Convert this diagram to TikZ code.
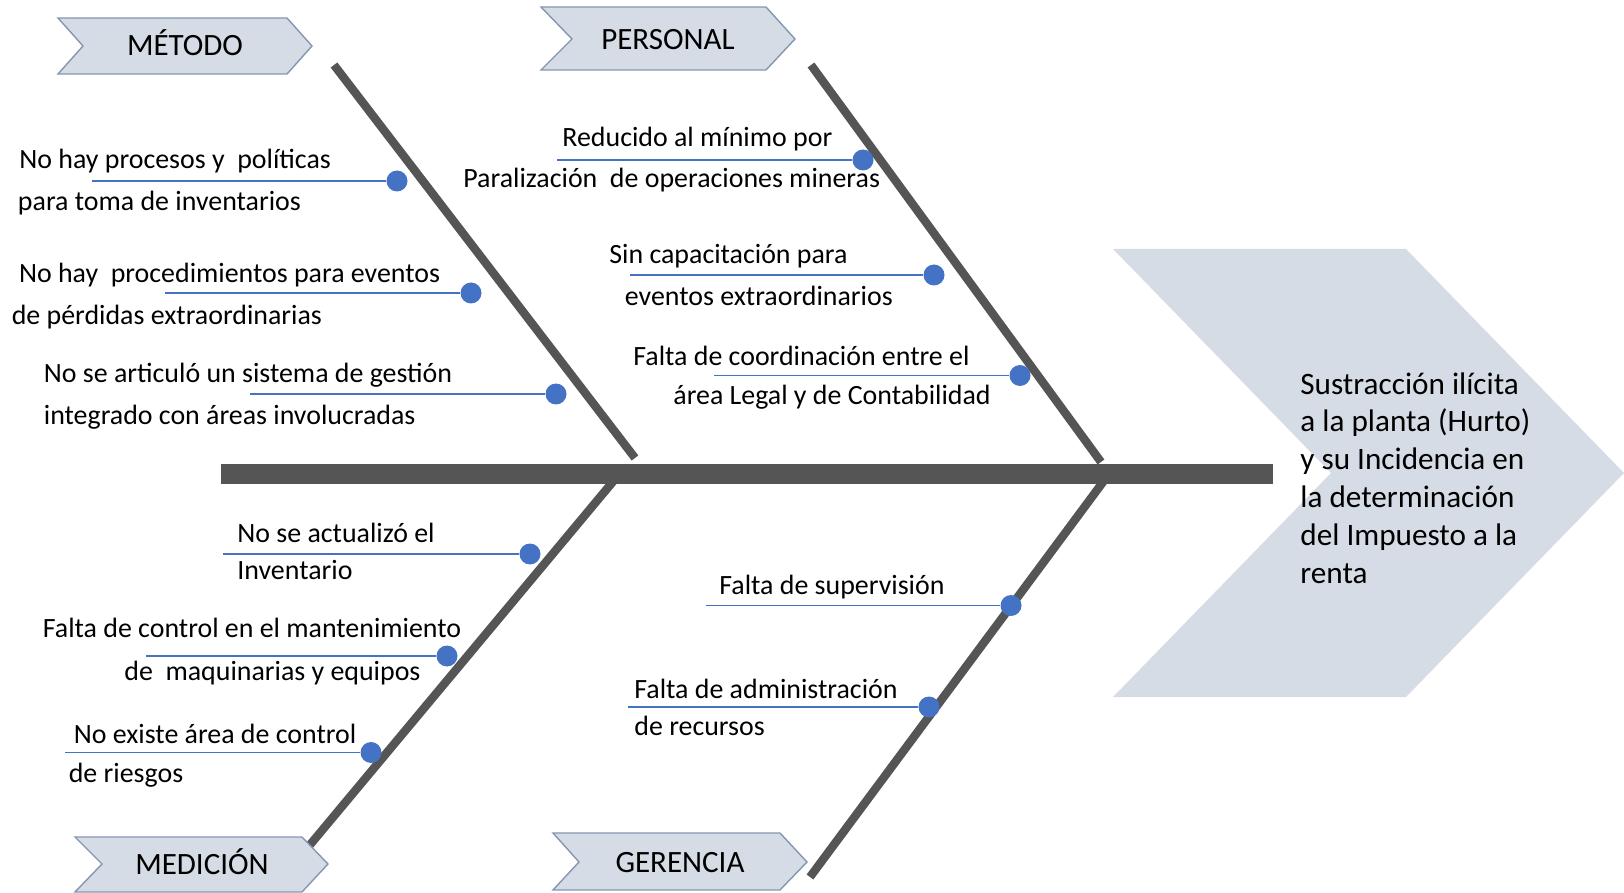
\documentclass[tikz,border=0pt]{standalone}
\usepackage{fontspec}
\setmainfont{Carlito}
\usepackage{tikz}

\definecolor{bonegray}{HTML}{555555}
\definecolor{dotblue}{HTML}{4472C4}
\definecolor{headfill}{HTML}{D6DCE5}
\definecolor{headline}{HTML}{8497B0}

\newcommand{\causefont}{\fontsize{13.95}{20}\selectfont}
\newcommand{\headfont}{\fontsize{15.5}{18}\selectfont}
\newcommand{\effectfont}{\fontsize{15.6}{18.95}\selectfont}

\begin{document}
\begin{tikzpicture}[
    x=0.5pt, y=-0.5pt,
    spine/.style={draw=bonegray, line width=9.5pt},
    bone/.style={draw=bonegray, line width=4.2pt},
    tick/.style={draw=dotblue, line width=0.75pt},
    dot/.style={circle, fill=dotblue, inner sep=0pt, minimum size=10.5pt},
    cause/.style={anchor=base west, inner sep=0pt, font=\causefont},
    chevron/.style={fill=headfill, draw=headline, line width=0.7pt},
    head/.style={anchor=base, inner sep=0pt, font=\headfont},
    effect/.style={anchor=base west, inner sep=0pt, align=left, font=\effectfont}
]
\useasboundingbox (0,0) rectangle (1624,893);

% Effect
\fill[headfill] (1113,249) -- (1406,249) -- (1624,473) -- (1406,697) -- (1113,697) -- (1331,473) -- cycle;
\node[effect] (efecto) at (1300,583.5) {Sustracción ilícita\\a la planta (Hurto)\\y su Incidencia en\\la determinación\\del Impuesto a la\\renta};

% Spine and bones
\coordinate (tail) at (221,474);
\coordinate (head) at (1273,474);
\draw[spine] (tail) -- (head);
\coordinate (metA) at (334,65);
\coordinate (metB) at (635,458);
\coordinate (perA) at (811,65);
\coordinate (perB) at (1101,462);
\coordinate (medA) at (616,478);
\coordinate (medB) at (309,846);
\coordinate (gerA) at (1106,478);
\coordinate (gerB) at (810,877);
\draw[bone] (metA) -- (metB);
\draw[bone] (perA) -- (perB);
\draw[bone] (medA) -- (medB);
\draw[bone] (gerA) -- (gerB);

% Categories
\draw[chevron] (58,18) -- (287,18) -- (312,46) -- (287,74) -- (58,74) -- (83,46) -- cycle;
\node[head] (metodo) at (185,56) {MÉTODO};
\draw[chevron] (541,7) -- (766,7) -- (795,39) -- (766,70) -- (541,70) -- (572,39) -- cycle;
\node[head] (personal) at (668,50) {PERSONAL};
\draw[chevron] (75,837) -- (302,837) -- (328,864) -- (302,892) -- (75,892) -- (102,864) -- cycle;
\node[head] (medicion) at (202,874.5) {MEDICIÓN};
\draw[chevron] (553,833) -- (780,833) -- (807,862) -- (780,890) -- (553,890) -- (579,862) -- cycle;
\node[head] (gerencia) at (680,872) {GERENCIA};

% Método causes
\node[cause] (met1a) at (19,169) {No hay procesos y~ políticas};
\node[cause] (met1b) at (17.6,211) {para toma de inventarios};
\node[dot] (met1) at (397,181) {};
\coordinate (met1s) at (92,181);
\draw[tick] (met1s) -- (met1);

\node[cause] (met2a) at (18.6,282.4) {No hay~ procedimientos para eventos};
\node[cause] (met2b) at (11.4,324.9) {de pérdidas extraordinarias};
\node[dot] (met2) at (471,293) {};
\coordinate (met2s) at (165,293);
\draw[tick] (met2s) -- (met2);

\node[cause] (met3a) at (43.5,382.9) {No se articuló un sistema de gestión};
\node[cause] (met3b) at (43.5,424.3) {integrado con áreas involucradas};
\node[dot] (met3) at (556,394) {};
\coordinate (met3s) at (250,394);
\draw[tick] (met3s) -- (met3);

% Personal causes
\node[cause] (per1a) at (562,146.7) {Reducido al mínimo por};
\node[cause] (per1b) at (463,188) {Paralización~ de operaciones mineras};
\node[dot] (per1) at (863,160) {};
\coordinate (per1s) at (557,160);
\draw[tick] (per1s) -- (per1);

\node[cause] (per2a) at (609,263.8) {Sin capacitación para};
\node[cause] (per2b) at (624.5,305.2) {eventos extraordinarios};
\node[dot] (per2) at (934,275) {};
\coordinate (per2s) at (630,275);
\draw[tick] (per2s) -- (per2);

\node[cause] (per3a) at (633,365.3) {Falta de coordinación entre el};
\node[cause] (per3b) at (673,404.6) {área Legal y de Contabilidad};
\node[dot] (per3) at (1020,375.5) {};
\coordinate (per3s) at (714,375.5);
\draw[tick] (per3s) -- (per3);

% Medición causes
\node[cause] (med1a) at (237,542.4) {No se actualizó el};
\node[cause] (med1b) at (237,579) {Inventario};
\node[dot] (med1) at (530,554) {};
\coordinate (med1s) at (223,554);
\draw[tick] (med1s) -- (med1);

\node[cause] (med2a) at (42.5,637.7) {Falta de control en el mantenimiento};
\node[cause] (med2b) at (124,680.1) {de~ maquinarias y equipos};
\node[dot] (med2) at (447,656) {};
\coordinate (med2s) at (146,656);
\draw[tick] (med2s) -- (med2);

\node[cause] (med3a) at (73.5,743.3) {No existe área de control};
\node[cause] (med3b) at (68.4,782.7) {de riesgos};
\node[dot] (med3) at (371,752.5) {};
\coordinate (med3s) at (65,752.5);
\draw[tick] (med3s) -- (med3);

% Gerencia causes
\node[cause] (ger1a) at (719,594.2) {Falta de supervisión};
\node[dot] (ger1) at (1011,605.5) {};
\coordinate (ger1s) at (706,605.5);
\draw[tick] (ger1s) -- (ger1);

\node[cause] (ger2a) at (634,698.8) {Falta de administración};
\node[cause] (ger2b) at (634,735) {de recursos};
\node[dot] (ger2) at (929,707) {};
\coordinate (ger2s) at (628,707);
\draw[tick] (ger2s) -- (ger2);
\end{tikzpicture}
\end{document}
